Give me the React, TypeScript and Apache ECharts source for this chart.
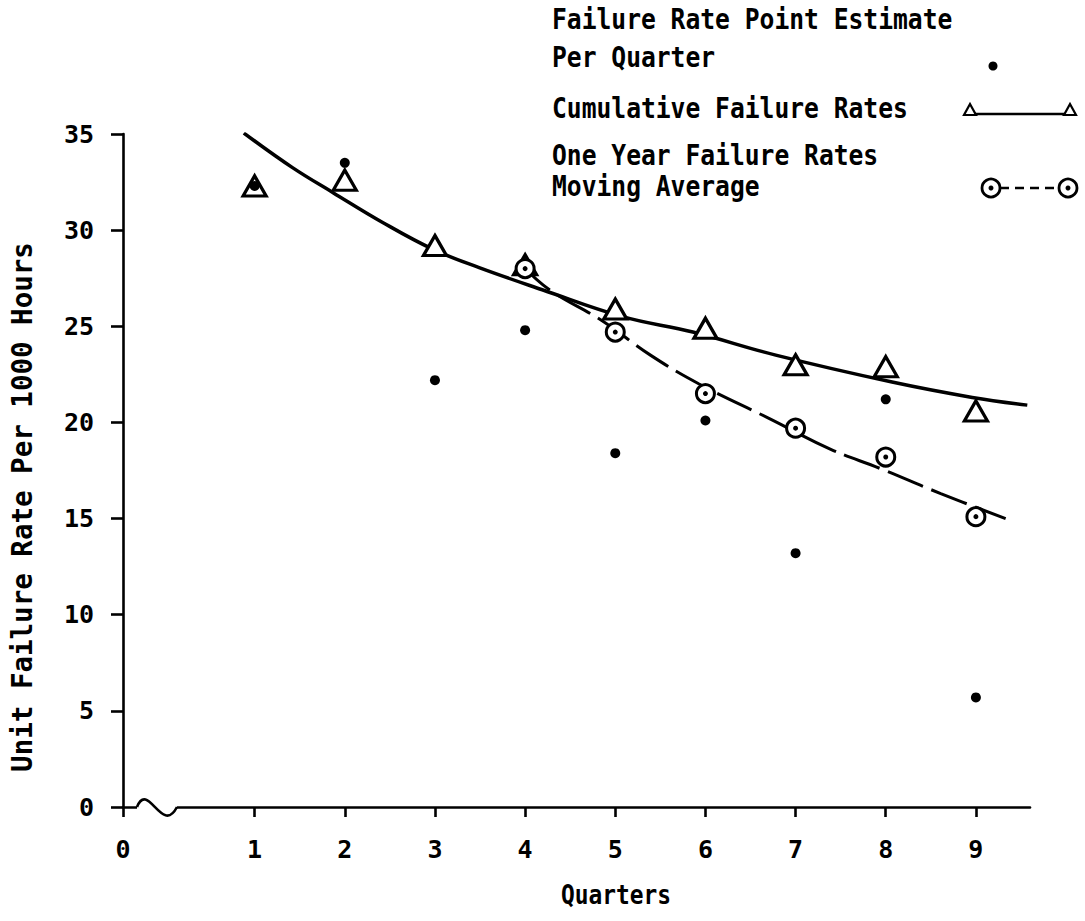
import React, { useEffect, useRef } from "react";
import * as echarts from "echarts";

// Quarterly unit failure rates (per 1000 hours)
const QUARTERS = [1, 2, 3, 4, 5, 6, 7, 8, 9];
const X_TICK_LABELS = ["0", "1", "2", "3", "4", "5", "6", "7", "8", "9"];
const POINT_ESTIMATE = [32.3, 33.5, 22.2, 24.8, 18.4, 20.1, 13.2, 21.2, 5.7];
const CUMULATIVE = [32.3, 32.6, 29.2, 28.2, 25.9, 24.9, 23.0, 22.9, 20.6];
const MOVING_AVG_QUARTERS = [4, 5, 6, 7, 8, 9];
const MOVING_AVG = [28.0, 24.7, 21.5, 19.7, 18.2, 15.1];

// Hand-fitted trend curves
const CUMULATIVE_FIT_X = [0.88, 1.42, 1.87, 2.42, 2.98, 3.49, 4.19, 5.08, 5.86, 6.78, 8.07, 8.96, 9.57];
const CUMULATIVE_FIT_Y = [35.05, 33.25, 31.95, 30.4, 29.0, 28.05, 26.9, 25.5, 24.7, 23.5, 22.1, 21.3, 20.9];
const MOVING_FIT_X = [3.96, 4.27, 4.85, 5.39, 5.93, 6.71, 7.39, 7.94, 8.61, 9.33];
const MOVING_FIT_Y = [28.2, 26.9, 25.3, 23.5, 22.0, 20.2, 18.6, 17.6, 16.3, 15.0];

// The x axis is broken between 0 and 1, so "0" sits closer to quarter 1
const X_ORIGIN = -0.46;
const X_MAX = 9.6;

const FONT = "DejaVu Sans Mono";
const INK = "#000";

const zip = (xs: number[], ys: number[]) => xs.map((x, i) => [x, ys[i]]);

export default function App() {
  const ref = useRef<HTMLDivElement>(null);

  useEffect(() => {
    if (!ref.current) return;
    const chart = echarts.init(ref.current, undefined, { renderer: "svg" });
    const xTicks = [X_ORIGIN, ...QUARTERS];

    const legendText = (text: string, y: number) => ({
      type: "text",
      x: 552,
      y,
      scaleX: 0.88,
      style: {
        text,
        fill: INK,
        font: `bold 28px ${FONT}`,
        textAlign: "left",
        textVerticalAlign: "middle",
      },
    });

    chart.setOption({
      animation: false,
      backgroundColor: "#fff",
      grid: { left: 123, right: 55, top: 134, bottom: 114, containLabel: false },
      xAxis: {
        type: "value",
        min: X_ORIGIN,
        max: X_MAX,
        axisLine: { onZero: false, lineStyle: { color: INK, width: 2.6 } },
        axisTick: {
          customValues: xTicks,
          length: 10,
          inside: false,
          lineStyle: { color: INK, width: 2.6 },
        },
        axisLabel: {
          customValues: xTicks,
          margin: 30,
          color: INK,
          fontFamily: FONT,
          fontWeight: "bold",
          fontSize: 25,
          formatter: (v: number) => (v < 0.5 ? X_TICK_LABELS[0] : X_TICK_LABELS[Math.round(v)]),
        },
        splitLine: { show: false },
      },
      yAxis: {
        type: "value",
        min: 0,
        max: 35,
        interval: 5,
        axisLine: { show: true, onZero: false, lineStyle: { color: INK, width: 2.6 } },
        axisTick: { show: true, length: 12, lineStyle: { color: INK, width: 2.6 } },
        axisLabel: { margin: 29, color: INK, fontFamily: FONT, fontWeight: "bold", fontSize: 25 },
        splitLine: { show: false },
      },
      series: [
        {
          name: "Cumulative fit",
          type: "line",
          data: zip(CUMULATIVE_FIT_X, CUMULATIVE_FIT_Y),
          smooth: 0.4,
          showSymbol: false,
          lineStyle: { color: INK, width: 3.5 },
          z: 2,
        },
        {
          name: "Moving average fit",
          type: "line",
          data: zip(MOVING_FIT_X, MOVING_FIT_Y),
          smooth: 0.4,
          showSymbol: false,
          lineStyle: { color: INK, width: 3, type: [38, 9] },
          z: 2,
        },
        {
          name: "Cumulative Failure Rates",
          type: "scatter",
          data: zip(QUARTERS, CUMULATIVE),
          symbol: "triangle",
          symbolSize: [23, 20],
          itemStyle: { color: "#fff", borderColor: INK, borderWidth: 3.2, opacity: 1 },
          z: 3,
        },
        {
          name: "One Year Failure Rates Moving Average",
          type: "scatter",
          data: zip(MOVING_AVG_QUARTERS, MOVING_AVG),
          symbol: "circle",
          symbolSize: 18,
          itemStyle: { color: "#fff", borderColor: INK, borderWidth: 3, opacity: 1 },
          z: 3,
        },
        {
          name: "Moving average centres",
          type: "scatter",
          data: zip(MOVING_AVG_QUARTERS, MOVING_AVG),
          symbol: "circle",
          symbolSize: 5,
          itemStyle: { color: INK, opacity: 1 },
          z: 4,
        },
        {
          name: "Failure Rate Point Estimate Per Quarter",
          type: "scatter",
          data: zip(QUARTERS, POINT_ESTIMATE),
          symbol: "circle",
          symbolSize: 10,
          itemStyle: { color: INK, opacity: 1 },
          z: 5,
        },
      ],
      graphic: [
        // axis break squiggle between 0 and 1
        { type: "rect", shape: { x: 137, y: 800, width: 40, height: 14 }, style: { fill: "#fff" }, z: 50 },
        {
          type: "bezierCurve",
          shape: { x1: 137, y1: 807, cpx1: 148, cpy1: 780, cpx2: 162, cpy2: 836, x2: 177, y2: 807 },
          style: { stroke: INK, lineWidth: 2.6, fill: "none" },
          z: 51,
        },
        // axis titles
        {
          type: "text",
          x: 22,
          y: 507,
          rotation: Math.PI / 2,
          style: {
            text: "Unit Failure Rate Per 1000 Hours",
            fill: INK,
            font: `bold 27.5px ${FONT}`,
            textAlign: "center",
            textVerticalAlign: "middle",
          },
        },
        {
          type: "text",
          x: 616,
          y: 895,
          scaleX: 0.88,
          style: {
            text: "Quarters",
            fill: INK,
            font: `bold 26px ${FONT}`,
            textAlign: "center",
            textVerticalAlign: "middle",
          },
        },
        // legend
        legendText("Failure Rate Point Estimate", 19),
        legendText("Per Quarter", 57),
        { type: "circle", shape: { cx: 993, cy: 66, r: 4.5 }, style: { fill: INK } },
        legendText("Cumulative Failure Rates", 108),
        { type: "line", shape: { x1: 975, y1: 114, x2: 1066, y2: 114 }, style: { stroke: INK, lineWidth: 2.4 } },
        { type: "polygon", shape: { points: [[964, 115], [976, 115], [970, 104]] }, style: { fill: "#fff", stroke: INK, lineWidth: 2.2 } },
        { type: "polygon", shape: { points: [[1064, 115], [1076, 115], [1070, 104]] }, style: { fill: "#fff", stroke: INK, lineWidth: 2.2 } },
        legendText("One Year Failure Rates", 155),
        legendText("Moving Average", 186),
        { type: "line", shape: { x1: 1000, y1: 188, x2: 1059, y2: 188 }, style: { stroke: INK, lineWidth: 2.6, lineDash: [9, 6] } },
        { type: "circle", shape: { cx: 991, cy: 188, r: 9 }, style: { fill: "#fff", stroke: INK, lineWidth: 2.8 } },
        { type: "circle", shape: { cx: 991, cy: 188, r: 2.5 }, style: { fill: INK } },
        { type: "circle", shape: { cx: 1068, cy: 188, r: 9 }, style: { fill: "#fff", stroke: INK, lineWidth: 2.8 } },
        { type: "circle", shape: { cx: 1068, cy: 188, r: 2.5 }, style: { fill: INK } },
      ],
    });

    return () => chart.dispose();
  }, []);

  return (
    <div
      ref={ref}
      style={{ position: "absolute", left: 0, top: 0, width: 1085, height: 921, background: "#fff" }}
    />
  );
}
